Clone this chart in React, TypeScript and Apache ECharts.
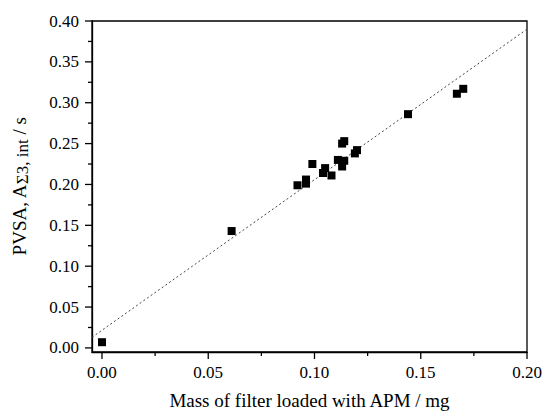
import React, { useEffect, useRef } from "react";
import * as echarts from "echarts";

const xValues = [0.0, 0.061, 0.092, 0.096, 0.096, 0.099, 0.104, 0.105, 0.108, 0.111, 0.113, 0.113, 0.114, 0.114, 0.119, 0.12, 0.144, 0.167, 0.17];
const yValues = [0.007, 0.143, 0.199, 0.206, 0.201, 0.225, 0.214, 0.22, 0.211, 0.23, 0.222, 0.25, 0.253, 0.229, 0.238, 0.242, 0.286, 0.311, 0.317];

const fitX = [-0.0047, 0.2];
const fitY = [0.013, 0.39];

const xExtent = [-0.0047, 0.2];
const yExtent = [-0.005, 0.4];
const xMajorTicks = [0, 0.05, 0.1, 0.15, 0.2];
const xMinorTicks = [0.025, 0.075, 0.125, 0.175];
const yMajorTicks = [0, 0.05, 0.1, 0.15, 0.2, 0.25, 0.3, 0.35, 0.4];
const yMinorTicks = [0.025, 0.075, 0.125, 0.175, 0.225, 0.275, 0.325, 0.375];

const xTitle = "Mass of filter loaded with APM / mg";
const yTitleMain = "PVSA, A";
const yTitleSub = "Σ3, int";
const yTitleUnit = " / s";

const FONT = '"Liberation Serif", "Times New Roman", serif';

function tickSeries(values: number[], dim: "x" | "y", len: number) {
  return {
    type: "custom",
    coordinateSystem: "cartesian2d",
    xAxisIndex: 0,
    yAxisIndex: 0,
    clip: false,
    silent: true,
    z: 5,
    data: values.map((v) => (dim === "x" ? [v, yExtent[0]] : [xExtent[0], v])),
    encode: { x: 0, y: 1 },
    renderItem: (params: any, api: any) => {
      const p = api.coord([api.value(0), api.value(1)]);
      const cs = params.coordSys;
      if (dim === "x") {
        const x = p[0];
        const y0 = cs.y + cs.height;
        return {
          type: "line",
          shape: { x1: x, y1: y0, x2: x, y2: y0 + len },
          style: { stroke: "#000", lineWidth: 1.3 },
        };
      }
      const y = p[1];
      const x0 = cs.x;
      return {
        type: "line",
        shape: { x1: x0 - len, y1: y, x2: x0, y2: y },
        style: { stroke: "#000", lineWidth: 1.3 },
      };
    },
  };
}

export default function App() {
  const ref = useRef<HTMLDivElement>(null);
  useEffect(() => {
    document.body.style.margin = "0";
    if (!ref.current) return;
    const chart = echarts.init(ref.current, undefined, { renderer: "svg" });
    const labelStyle = { fontFamily: FONT, fontSize: 17, color: "#000" };
    const titleStyle = { fontFamily: FONT, fontSize: 19, color: "#000" };

    chart.setOption({
      animation: false,
      grid: {
        left: 90,
        right: 18,
        top: 21,
        bottom: 62,
        show: true,
        borderColor: "#000",
        borderWidth: 1.3,
      },
      xAxis: {
        type: "value",
        min: xExtent[0],
        max: xExtent[1],
        position: "bottom",
        axisLine: { show: true, onZero: false, lineStyle: { color: "#000", width: 1.3 } },
        axisTick: { show: false },
        minorTick: { show: false },
        splitLine: { show: false },
        axisLabel: {
          show: true,
          margin: 12,
          customValues: xMajorTicks,
          formatter: (v: number) => v.toFixed(2),
          ...labelStyle,
        },
        name: xTitle,
        nameLocation: "middle",
        nameGap: 39,
        nameTextStyle: { ...titleStyle },
      },
      yAxis: {
        type: "value",
        min: yExtent[0],
        max: yExtent[1],
        position: "left",
        axisLine: { show: true, onZero: false, lineStyle: { color: "#000", width: 1.3 } },
        axisTick: { show: false },
        minorTick: { show: false },
        splitLine: { show: false },
        axisLabel: {
          show: true,
          margin: 13,
          customValues: yMajorTicks,
          formatter: (v: number) => v.toFixed(2),
          ...labelStyle,
        },
        name: `{a|${yTitleMain}}{b|${yTitleSub}}{a|${yTitleUnit}}`,
        nameLocation: "middle",
        nameRotate: 90,
        nameGap: 61,
        nameTextStyle: {
          ...titleStyle,
          rich: {
            a: { fontFamily: FONT, fontSize: 19, color: "#000", lineHeight: 24, verticalAlign: "middle" },
            b: { fontFamily: FONT, fontSize: 17, color: "#000", lineHeight: 24, verticalAlign: "bottom", padding: [6, 0, 0, 0] },
          },
        },
      },
      series: [
        {
          type: "line",
          data: fitX.map((x, i) => [x, fitY[i]]),
          showSymbol: false,
          symbol: "none",
          lineStyle: { color: "#444", width: 1, type: [2, 2.5] },
          z: 1,
          silent: true,
        },
        {
          type: "scatter",
          data: xValues.map((x, i) => [x, yValues[i]]),
          symbol: "rect",
          symbolSize: 8,
          clip: false,
          itemStyle: { color: "#000", opacity: 1 },
          z: 2,
        },
        tickSeries(xMajorTicks, "x", 7),
        tickSeries(xMinorTicks, "x", 4),
        tickSeries(yMajorTicks, "y", 7),
        tickSeries(yMinorTicks, "y", 4),
      ],
    });
    return () => chart.dispose();
  }, []);
  return <div ref={ref} style={{ width: 545, height: 415 }} />;
}
